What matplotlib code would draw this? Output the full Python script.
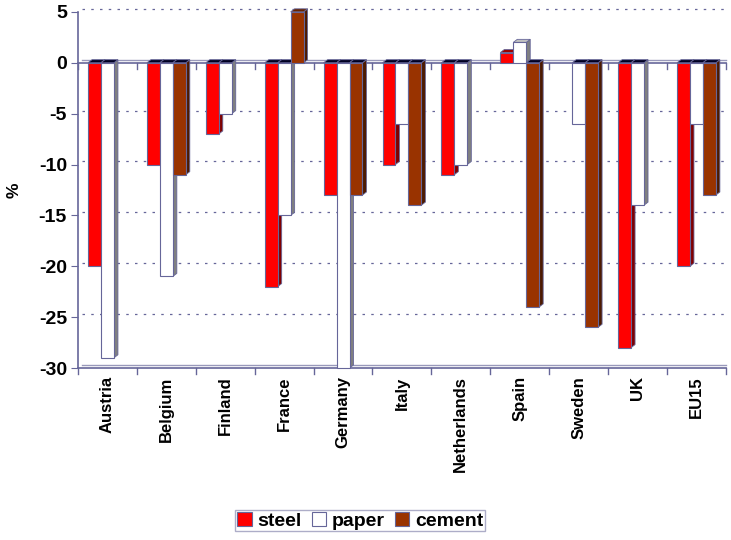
import numpy as np
import matplotlib.pyplot as plt
from matplotlib.patches import Polygon, Patch

plt.rcParams['font.family'] = ['Liberation Sans', 'DejaVu Sans']
plt.rcParams['font.weight'] = 'bold'
plt.rcParams['axes.unicode_minus'] = False

countries = ['Austria', 'Belgium', 'Finland', 'France', 'Germany', 'Italy',
             'Netherlands', 'Spain', 'Sweden', 'UK', 'EU15']
steel = [-20, -10, -7, -22, -13, -10, -11, 1, None, -28, -20]
paper = [-29, -21, -5, -15, -30, -6, -10, 2, -6, -14, -6]
cement = [None, -11, None, 5, -13, -14, None, -24, -26, None, -13]

series = [
    ('steel', steel, '#ff0000', '#800000', '#990000'),
    ('paper', paper, '#ffffff', '#808080', '#c0c0c0'),
    ('cement', cement, '#993300', '#4d1a00', '#662200'),
]
edge = '#666699'

fig = plt.figure(figsize=(7.31, 5.40), dpi=100)
ax = fig.add_axes([0.1067, 0.3185, 0.8863, 0.6595])
ax.set_xlim(0, 11)
ax.set_ylim(-30, 5)

# depth of the pseudo-3D faces, in data units
dx = 0.068
dy = 0.3
width = 0.22
offset = 0.17

# back wall gridlines
for g in [5, -5, -10, -15, -20, -25]:
    ax.plot([dx, 11], [g + dy, g + dy], ls=(0, (2, 5)), color='#666699', lw=0.9,
            zorder=1, clip_on=False)
# floor lines at 0 and -30
for g in [0, -30]:
    ax.plot([0, 11], [g, g], color=edge, lw=1.2, zorder=1, clip_on=False)
    ax.plot([dx, 11], [g + dy, g + dy], color='#9999bb', lw=1.0, zorder=1, clip_on=False)
    for i in range(12):
        ax.plot([i, i], [g, g - 0.6], color=edge, lw=1.0, zorder=1, clip_on=False)

z = 3
for k, (name, vals, front, side, top) in enumerate(series):
    for i, v in enumerate(vals):
        if v is None:
            continue
        x0 = i + offset + k * width
        x1 = x0 + width
        if v < 0:
            cap = [(x0, 0), (x1, 0), (x1 + dx, dy), (x0 + dx, dy)]
            capc = '#000022'
        else:
            cap = [(x0, v), (x1, v), (x1 + dx, v + dy), (x0 + dx, v + dy)]
            capc = top
        ax.add_patch(Polygon([(x1, 0), (x1 + dx, dy), (x1 + dx, v + dy), (x1, v)],
                             closed=True, fc=side, ec=edge, lw=0.6, zorder=z, clip_on=False))
        ax.add_patch(Polygon(cap, closed=True, fc=capc, ec=edge, lw=0.6, zorder=z,
                             clip_on=False))
        ax.bar(x0, v, width=width, align='edge', color=front, edgecolor=edge,
               lw=0.8, zorder=z + 0.5, clip_on=False)
        z += 1

for s in ['top', 'right', 'bottom']:
    ax.spines[s].set_visible(False)
ax.spines['left'].set_color(edge)
ax.spines['left'].set_linewidth(1.2)

ax.set_yticks([5, 0, -5, -10, -15, -20, -25, -30])
ax.set_yticklabels(['5', '0', '-5', '-10', '-15', '-20', '-25', '-30'],
                   fontsize=14, fontweight='bold')
ax.tick_params(axis='y', length=5, color=edge, pad=3)
ax.set_xticks(np.arange(11) + 0.5)
ax.set_xticklabels(countries, rotation=90, fontsize=12, fontweight='bold')
ax.tick_params(axis='x', length=0, pad=6)
ax.set_ylabel('%', fontsize=12.5, fontweight='bold', labelpad=12)

handles = [Patch(fc=c, ec=edge, lw=0.8) for _, _, c, _, _ in series]
fig.legend(handles, [s[0] for s in series], loc='center', bbox_to_anchor=(0.493, 0.036),
           ncol=3, frameon=True, fancybox=False, edgecolor='#9999bb',
           prop={'size': 14, 'weight': 'bold'}, handlelength=0.75, handleheight=0.75,
           handletextpad=0.3, columnspacing=0.5, borderpad=0.1, borderaxespad=0)

fig.savefig('out.png', dpi=100)
